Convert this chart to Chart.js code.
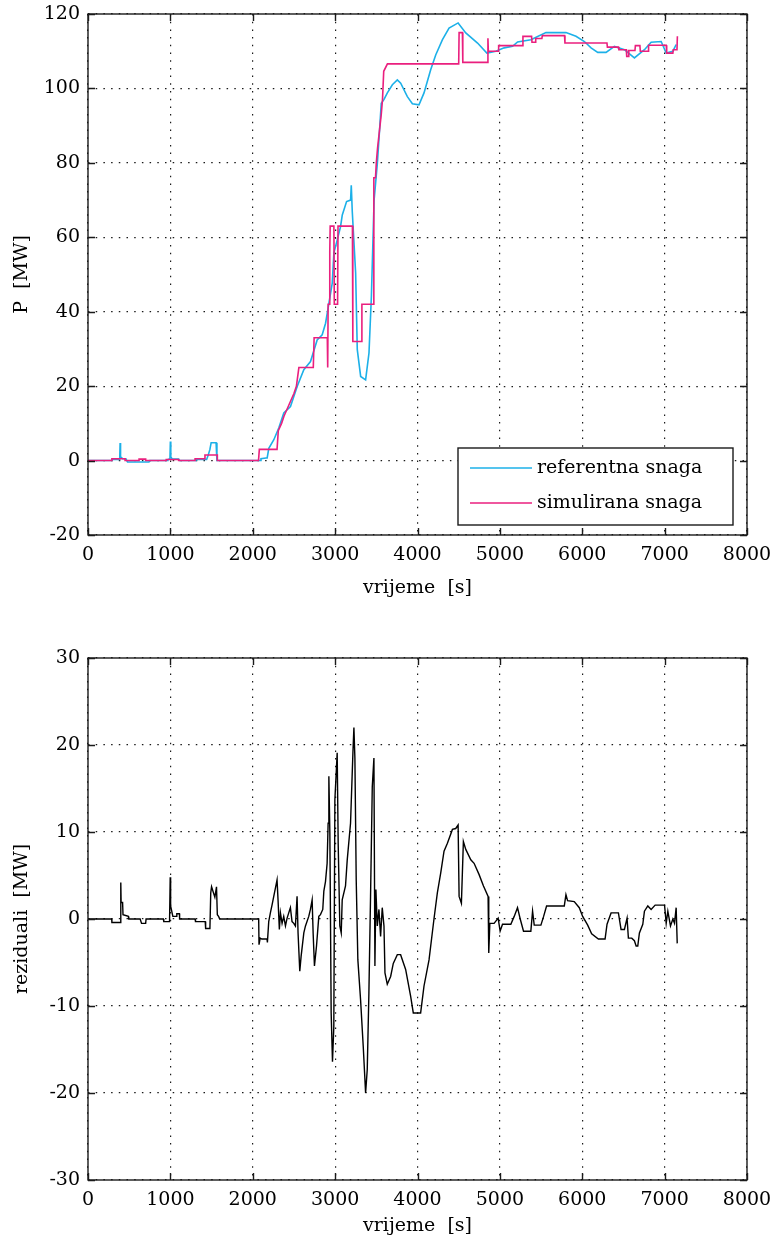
<!DOCTYPE html>
<html><head><meta charset="utf-8">
<script src="https://cdn.jsdelivr.net/npm/chart.js@4/dist/chart.umd.min.js"></script>
<style>
html,body{margin:0;padding:0;background:#fff;width:776px;height:1247px;overflow:hidden}
.box{position:absolute;left:0;width:776px}
</style></head><body>
<div class="box" style="top:0;height:620px"><canvas id="c1"></canvas></div>
<div class="box" style="top:620px;height:627px"><canvas id="c2"></canvas></div>
<script>
// ---- data ----
const xTicks = [0,1000,2000,3000,4000,5000,6000,7000,8000];
const pTicks = [-20,0,20,40,60,80,100,120];
const rTicks = [-30,-20,-10,0,10,20,30];
const seriesNames = ['referentna snaga','simulirana snaga'];

const refT = [0,290,300,385,390,395,420,460,480,740,750,960,970,995,1000,1005,1020,1100,1110,1300,1310,1440,1460,1480,1495,1555,1565,2090,2100,2160,2175,2195,2256,2317,2377,2458,2539,2620,2701,2782,2843,2884,2925,2965,2985,3026,3066,3087,3139,3188,3196,3208,3249,3269,3310,3370,3411,3440,3473,3513,3540,3560,3592,3634,3695,3755,3796,3877,3938,4018,4079,4160,4221,4303,4383,4493,4586,4729,4842,4951,5052,5154,5215,5377,5559,5803,5924,6026,6107,6188,6289,6390,6512,6633,6755,6836,6958,7019,7100,7140];
const refP = [0,0,0.3,0.3,4.7,1,0.5,0.5,-0.4,-0.4,0,0,0.3,0.5,5.1,1,0.5,0.4,0,0,0.3,0.3,1.5,3,4.8,4.8,0,0,0.5,0.7,0.7,3.3,5.6,8.8,12.8,14.5,19.9,24.4,26.6,32.4,33.8,36.9,42.3,47.7,55.8,59.3,62.9,66,69.6,70,74,67,50.4,29.8,22.6,21.7,28.9,44,70,80,89,96,97,98.8,101,102.3,101.4,97.8,95.9,95.6,98.8,105,109,113.1,116.2,117.6,114.9,112.2,109.5,110,110.9,111.3,112.5,113.1,115,115,114,112.6,110.9,109.7,109.7,111.3,110.4,108.2,110.4,112.4,112.6,109.5,110,111.8];

const simT = [0,290,290,450,450,620,620,700,700,950,950,1100,1100,1300,1300,1420,1420,1570,1570,2070,2080,2295,2310,2350,2380,2420,2460,2500,2530,2560,2735,2745,2905,2910,2915,2930,2935,2940,2985,2990,3030,3035,3210,3215,3320,3325,3465,3470,3490,3500,3515,3540,3560,3575,3590,3635,4500,4505,4545,4550,4850,4855,4860,4980,4985,5275,5280,5385,5390,5430,5435,5510,5515,5785,5790,6300,6305,6440,6445,6535,6540,6560,6565,6640,6645,6700,6705,6800,6805,7020,7025,7100,7105,7150,7155];
const simP = [0,0,0.5,0.5,0,0,0.4,0.4,0,0,0.3,0.3,0,0,0.5,0.5,1.5,1.5,0,0,3,3,8,10,12,14,16,18,20,25,25,33,33,25,42,42,56,63,63,42,42,63,63,32,32,42,42,76,76,80,84,89,93,97,104.6,106.6,106.6,115,115,107,107,113.5,110,110,111.5,111.5,114,114,112.4,112.4,113.4,113.4,114.2,114.2,112.2,112.2,111.1,111.1,110.4,110.4,108.6,108.6,110.2,110.2,111.5,111.5,110,110,111.6,111.6,109.5,109.5,110.4,110.4,114];

const resT = [0,288,290,390,398,402,420,425,490,495,633,650,700,705,915,920,990,998,1003,1030,1075,1078,1110,1112,1300,1305,1423,1428,1480,1490,1500,1540,1560,1570,1585,1600,2072,2076,2090,2110,2173,2178,2194,2214,2234,2255,2295,2307,2323,2336,2356,2376,2397,2417,2437,2457,2477,2498,2518,2538,2550,2571,2587,2620,2640,2680,2700,2721,2733,2749,2774,2802,2822,2850,2863,2883,2903,2915,2924,2936,2952,2968,2984,2997,3025,3037,3057,3074,3086,3126,3147,3187,3216,3228,3240,3256,3276,3309,3341,3370,3390,3410,3430,3451,3471,3483,3495,3512,3532,3552,3572,3593,3605,3633,3674,3706,3755,3795,3856,3917,3949,4038,4079,4140,4200,4241,4282,4322,4363,4424,4464,4493,4505,4533,4557,4586,4647,4687,4748,4801,4857,4865,4878,4930,4979,5003,5032,5133,5174,5214,5247,5287,5376,5397,5417,5498,5531,5567,5782,5802,5822,5903,5964,6005,6066,6114,6196,6277,6301,6350,6439,6471,6512,6544,6560,6601,6633,6654,6674,6694,6735,6755,6796,6836,6885,6999,7019,7039,7071,7100,7120,7140,7153];
const resR = [0,0,-0.4,-0.4,4.2,1.9,1.9,0.5,0.3,0,0,-0.5,-0.5,0,0,-0.3,-0.3,4.8,1.5,0.3,0.3,0.6,0.6,0,0,-0.3,-0.3,-1.1,-1.1,3.0,3.7,2.5,3.7,0.5,0.3,0,0,-2.95,-2.2,-2.3,-2.3,-2.7,-0.3,0.7,1.6,2.6,4.5,2.2,-1.2,0.7,-0.5,0.3,-0.8,0.1,0.7,1.3,-0.3,-0.5,-0.8,2.6,-1.6,-6,-4.3,-1.6,-0.8,0.3,1.1,2.2,-1.6,-5.4,-3.1,0.3,0.5,1.1,3.2,4.3,6.4,11,16.4,9.9,-10.8,-16.4,-12.4,13.7,19.1,8.7,-0.8,-1.6,2.2,3.8,6.8,11,19.1,22,18.5,4.5,-4.7,-9.3,-14.6,-20,-17.3,-8.5,2.6,15.2,18.5,-5.4,3.4,-0.8,1.1,-2,1.3,-0.8,-6.2,-7.5,-6.6,-5.1,-4.1,-4.1,-5.8,-8.9,-10.8,-10.8,-7.7,-4.7,0,3,5.3,7.8,8.7,10.3,10.4,10.8,2.6,1.8,8.9,8,6.8,6.4,5.1,3.8,2.6,-3.9,-0.5,-0.5,0.1,-1.4,-0.6,-0.6,0.3,1.3,0,-1.4,-1.4,0.9,-0.7,-0.7,0.3,1.5,1.5,2.8,2.1,2,1.3,0.3,-0.7,-1.7,-2.3,-2.3,-0.6,0.7,0.7,-1.2,-1.2,0.1,-2.2,-2.2,-2.5,-3.1,-3.1,-1.6,-0.6,0.9,1.5,1.1,1.6,1.6,-0.5,0.9,-0.8,0,-0.5,1.3,-2.8];

// ---- styling ----
const FONT = "'DejaVu Serif', 'Liberation Serif', serif";
const BLUE = '#1cb0e8';
const MAGENTA = '#ea1f7e';
const pts = (xs, ys) => xs.map((v, i) => ({x: v, y: ys[i]}));

const framePlugin = {
  id: 'frame',
  afterDatasetsDraw(chart) {
    const {ctx, chartArea: a, scales: {x, y}} = chart;
    ctx.save();
    ctx.strokeStyle = '#1a1a1a';
    ctx.lineWidth = 1.4;
    ctx.strokeRect(a.left, a.top, a.right - a.left, a.bottom - a.top);
    const L = 7;
    ctx.beginPath();
    x.ticks.forEach(t => { const p = Math.round(x.getPixelForValue(t.value)) + 0.5;
      ctx.moveTo(p, a.bottom); ctx.lineTo(p, a.bottom - L);
      ctx.moveTo(p, a.top); ctx.lineTo(p, a.top + L); });
    y.ticks.forEach(t => { const p = Math.round(y.getPixelForValue(t.value)) + 0.5;
      ctx.moveTo(a.left, p); ctx.lineTo(a.left + L, p);
      ctx.moveTo(a.right, p); ctx.lineTo(a.right - L, p); });
    ctx.stroke();
    ctx.restore();
  }
};

const boxLegend = {
  id: 'boxLegend',
  afterDraw(chart, args, opts) {
    if (!opts.show) return;
    const {ctx, chartArea: a} = chart;
    const w = 275, h = 77;
    const bx = a.right - 14 - w, by = a.bottom - 10 - h;
    ctx.save();
    ctx.fillStyle = '#fff';
    ctx.fillRect(bx, by, w, h);
    ctx.strokeStyle = '#1a1a1a';
    ctx.lineWidth = 1.4;
    ctx.strokeRect(bx, by, w, h);
    ctx.font = '19px ' + FONT;
    ctx.textBaseline = 'middle';
    ctx.fillStyle = '#000';
    chart.data.datasets.forEach((ds, i) => {
      const ly = by + 20 + i * 35;
      ctx.strokeStyle = ds.borderColor;
      ctx.lineWidth = 1.5;
      ctx.beginPath(); ctx.moveTo(bx + 12, ly); ctx.lineTo(bx + 74, ly); ctx.stroke();
      ctx.fillText(ds.label, bx + 79, ly);
    });
    ctx.restore();
  }
};

function zeroPad(s) { s.paddingTop = 0; s.paddingBottom = 0; s.paddingLeft = 0; s.paddingRight = 0; }

function makeScales(yMin, yMax, yStep, yTitle, xTitlePad, xHeight) {
  const tickFont = {family: FONT, size: 19};
  const grid = {color: '#1a1a1a', lineWidth: 1.2, drawTicks: false};
  return {
    x: {
      type: 'linear', min: 0, max: 8000,
      afterBuildTicks: s => { s.ticks = xTicks.map(v => ({value: v})); },
      ticks: {color: '#000', font: tickFont, padding: 9, maxRotation: 0, autoSkip: false, callback: v => String(v)},
      grid: grid,
      border: {display: false, dash: [1.5, 6.2]},
      title: {display: true, text: 'vrijeme  [s]', color: '#000', font: {family: FONT, size: 19}, padding: {top: 0, bottom: xTitlePad}},
      afterFit: s => { s.height = xHeight; zeroPad(s); }
    },
    y: {
      type: 'linear', min: yMin, max: yMax,
      afterBuildTicks: s => { const arr = []; for (let v = yMin; v <= yMax + 1e-9; v += yStep) arr.push({value: v}); s.ticks = arr; },
      ticks: {color: '#000', font: tickFont, padding: 8, autoSkip: false, callback: v => String(v)},
      grid: grid,
      border: {display: false, dash: [1.5, 6.2]},
      title: {display: true, text: yTitle, color: '#000', font: {family: FONT, size: 19}, padding: {top: 11, bottom: 0}},
      afterFit: s => { s.width = 88; zeroPad(s); }
    }
  };
}

new Chart(document.getElementById('c1'), {
  type: 'line',
  data: {
    datasets: [
      {label: seriesNames[0], data: pts(refT, refP), borderColor: BLUE, borderWidth: 1.6, pointRadius: 0, tension: 0, order: 2},
      {label: seriesNames[1], data: pts(simT, simP), borderColor: MAGENTA, borderWidth: 1.6, pointRadius: 0, tension: 0, order: 1}
    ]
  },
  options: {
    responsive: true, maintainAspectRatio: false, animation: false,
    layout: {padding: {left: 0, right: 29, top: 14, bottom: 0}},
    plugins: {legend: {display: false}, tooltip: {enabled: false}, boxLegend: {show: true}},
    scales: makeScales(pTicks[0], pTicks[pTicks.length - 1], 20, 'P  [MW]', 21, 85)
  },
  plugins: [framePlugin, boxLegend]
});

new Chart(document.getElementById('c2'), {
  type: 'line',
  data: {
    datasets: [
      {label: 'reziduali', data: pts(resT, resR), borderColor: '#000', borderWidth: 1.4, pointRadius: 0, tension: 0}
    ]
  },
  options: {
    responsive: true, maintainAspectRatio: false, animation: false,
    layout: {padding: {left: 0, right: 29, top: 38, bottom: 0}},
    plugins: {legend: {display: false}, tooltip: {enabled: false}, boxLegend: {show: false}},
    scales: makeScales(rTicks[0], rTicks[rTicks.length - 1], 10, 'reziduali  [MW]', 10, 67)
  },
  plugins: [framePlugin, boxLegend]
});
</script>
</body></html>
